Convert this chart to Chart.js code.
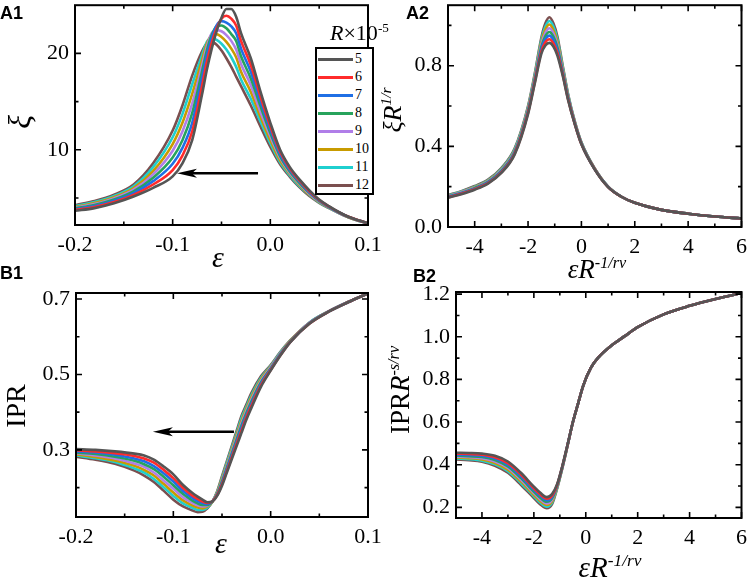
<!DOCTYPE html>
<html>
<head>
<meta charset="utf-8">
<script src="https://cdn.jsdelivr.net/npm/chart.js@4.4.1/dist/chart.umd.min.js"></script>
<style>
    body { margin: 0; background: #fff; width: 754px; height: 583px; overflow: hidden; position: relative;
           font-family: "Liberation Serif", "Times New Roman", serif; color: #000; }
    canvas { position: absolute; }
    .txt { position: absolute; white-space: nowrap; line-height: 1; }
    .rot { transform: translate(-50%, -50%) rotate(-90deg); }
    .ctr { transform: translate(-50%, -50%); }
    .panel { font-family: "Liberation Sans", Arial, sans-serif; font-weight: bold; font-size: 18px; }
    sup { font-size: 0.6em; vertical-align: baseline; position: relative; top: -0.62em; }
    #legend { position: absolute; left: 315px; top: 47px; width: 55px; height: 144px; border: 2px solid #000; background: #fff; }
    .row { position: absolute; left: 0; height: 16px; width: 55px; }
    .row span.l { position: absolute; left: 1px; top: 7px; width: 35px; height: 3px; }
    .row span.t { position: absolute; left: 38px; top: 0; font-size: 14px; line-height: 16px; }
</style>
</head>
<body>
<canvas id="cA1" width="390" height="276" style="left:0;top:-14px"></canvas>
<canvas id="cA2" width="382" height="276" style="left:372px;top:-14px"></canvas>
<canvas id="cB1" width="390" height="313" style="left:0;top:270px"></canvas>
<canvas id="cB2" width="374" height="313" style="left:380px;top:270px"></canvas>

<!-- etiquetas de panel -->
<div class="txt panel" style="left:0;top:4px">A1</div>
<div class="txt panel" style="left:406px;top:4px">A2</div>
<div class="txt panel" style="left:0;top:264px">B1</div>
<div class="txt panel" style="left:413px;top:267px">B2</div>

<!-- titulos de ejes -->
<div class="txt rot" style="left:19px;top:122px;font-size:32px"><i>ξ</i></div>
<div class="txt ctr" style="left:218px;top:257px;font-size:30px"><i>ε</i></div>
<div class="txt rot" style="left:393px;top:110px;font-size:26px"><i>ξR</i><sup><i>1/r</i></sup></div>
<div class="txt ctr" style="left:597px;top:269px;font-size:27px"><i>εR</i><sup><i>-1/rν</i></sup></div>
<div class="txt rot" style="left:16px;top:406px;font-size:28px">IPR</div>
<div class="txt ctr" style="left:221px;top:543px;font-size:30px"><i>ε</i></div>
<div class="txt rot" style="left:400px;top:390px;font-size:27px">IPR<i>R</i><sup><i>-s/rν</i></sup></div>
<div class="txt ctr" style="left:610px;top:567px;font-size:29px"><i>εR</i><sup><i>-1/rν</i></sup></div>

<!-- leyenda -->
<div class="txt" style="left:330px;top:22px;font-size:22px"><i>R</i>×10<sup>-5</sup></div>
<div id="legend"></div>

<script>
// Valores de R (x10^-5) y colores de cada serie
const rLabels = ['5', '6', '7', '8', '9', '10', '11', '12'];
const seriesColors = ['#555555', '#ff2b2b', '#1f6fe5', '#27a35c', '#b07ee8', '#c89b00', '#1fcfcf', '#7b4f4f'];

// Panel A1: xi vs epsilon
const xA1 = [-0.2, -0.18, -0.16, -0.14, -0.12, -0.1, -0.09, -0.08, -0.07, -0.065, -0.06, -0.055, -0.05, -0.045, -0.04, -0.035, -0.03, -0.02, -0.01, 0, 0.01, 0.02, 0.03, 0.04, 0.05, 0.06, 0.07, 0.08, 0.09, 0.1];
const xiR5  = [3.67, 3.95, 4.45, 5.15, 6.05, 7.25, 8.6, 11.0, 15.7, 18.3, 20.5, 22.3, 23.7, 24.6, 24.6, 23.8, 22.1, 19.5, 16.0, 12.8, 10.0, 8.2, 6.9, 5.8, 4.85, 4.15, 3.55, 3.05, 2.7, 2.4];
const xiR6  = [3.75, 4.06, 4.58, 5.33, 6.4, 7.9, 9.4, 11.9, 16.6, 19.1, 21.1, 22.6, 23.6, 23.9, 23.6, 22.9, 21.3, 18.8, 15.5, 12.45, 9.8, 8.05, 6.8, 5.7, 4.8, 4.12, 3.54, 3.05, 2.7, 2.4];
const xiR7  = [3.83, 4.16, 4.71, 5.51, 6.75, 8.55, 10.2, 12.8, 17.4, 19.8, 21.6, 22.9, 23.35, 23.2, 22.8, 22.1, 20.5, 18.1, 15.0, 12.1, 9.55, 7.9, 6.7, 5.6, 4.75, 4.09, 3.52, 3.04, 2.69, 2.39];
const xiR8  = [3.92, 4.27, 4.84, 5.69, 7.1, 9.2, 11.0, 13.8, 18.1, 20.3, 21.9, 22.8, 22.9, 22.6, 22.0, 21.3, 19.7, 17.4, 14.5, 11.75, 9.35, 7.75, 6.55, 5.55, 4.7, 4.06, 3.51, 3.03, 2.68, 2.38];
const xiR9  = [4.0, 4.38, 4.96, 5.86, 7.45, 9.9, 11.9, 14.8, 18.7, 20.7, 22.1, 22.4, 22.3, 21.9, 21.3, 20.4, 18.9, 16.7, 13.9, 11.4, 9.15, 7.6, 6.45, 5.45, 4.65, 4.03, 3.49, 3.02, 2.67, 2.37];
const xiR10 = [4.08, 4.48, 5.09, 6.04, 7.8, 10.6, 12.8, 15.8, 19.3, 21.0, 21.9, 22.0, 21.7, 21.2, 20.5, 19.6, 18.1, 16.0, 13.4, 11.0, 8.9, 7.5, 6.35, 5.35, 4.6, 4.0, 3.48, 3.01, 2.66, 2.36];
const xiR11 = [4.17, 4.59, 5.22, 6.22, 8.2, 11.3, 13.7, 16.8, 19.8, 21.2, 21.6, 21.4, 21.0, 20.4, 19.6, 18.6, 17.3, 15.3, 12.9, 10.65, 8.7, 7.35, 6.2, 5.3, 4.55, 3.97, 3.46, 3.0, 2.65, 2.35];
const xiR12 = [4.25, 4.7, 5.35, 6.4, 8.6, 12.0, 14.6, 17.7, 20.2, 21.0, 21.2, 20.9, 20.3, 19.5, 18.6, 17.6, 16.6, 14.6, 12.4, 10.3, 8.5, 7.2, 6.1, 5.2, 4.5, 3.95, 3.45, 3.0, 2.65, 2.35];

// Panel A2: xi R^(1/r) vs eps R^(-1/r nu)
const xA2 = [-5, -4.5, -4, -3.5, -3, -2.5, -2, -1.75, -1.5, -1.35, -1.2, -1.05, -0.9, -0.7, -0.5, -0.25, 0, 0.5, 1, 1.5, 2, 3, 4, 5, 6];
const scXiR5  = [0.145, 0.163, 0.185, 0.215, 0.268, 0.36, 0.56, 0.71, 0.86, 0.90, 0.913, 0.895, 0.85, 0.75, 0.63, 0.51, 0.41, 0.285, 0.198, 0.15, 0.12, 0.085, 0.066, 0.052, 0.042];
const scXiR6  = [0.147, 0.165, 0.188, 0.218, 0.271, 0.364, 0.566, 0.717, 0.871, 0.916, 0.931, 0.911, 0.864, 0.757, 0.634, 0.512, 0.411, 0.286, 0.198, 0.15, 0.12, 0.085, 0.066, 0.052, 0.042];
const scXiR7  = [0.149, 0.167, 0.19, 0.221, 0.275, 0.369, 0.571, 0.724, 0.883, 0.931, 0.949, 0.928, 0.877, 0.764, 0.639, 0.514, 0.413, 0.286, 0.199, 0.15, 0.12, 0.085, 0.066, 0.052, 0.042];
const scXiR8  = [0.151, 0.169, 0.193, 0.224, 0.278, 0.373, 0.577, 0.731, 0.894, 0.947, 0.967, 0.944, 0.891, 0.771, 0.643, 0.516, 0.414, 0.287, 0.199, 0.15, 0.12, 0.085, 0.066, 0.052, 0.042];
const scXiR9  = [0.152, 0.172, 0.195, 0.226, 0.282, 0.377, 0.583, 0.739, 0.906, 0.963, 0.986, 0.961, 0.904, 0.779, 0.647, 0.519, 0.416, 0.288, 0.199, 0.15, 0.12, 0.085, 0.066, 0.052, 0.042];
const scXiR10 = [0.154, 0.174, 0.198, 0.229, 0.285, 0.381, 0.589, 0.746, 0.917, 0.979, 1.004, 0.977, 0.918, 0.786, 0.651, 0.521, 0.417, 0.289, 0.2, 0.15, 0.12, 0.085, 0.066, 0.052, 0.042];
const scXiR11 = [0.156, 0.176, 0.2, 0.232, 0.289, 0.386, 0.594, 0.753, 0.929, 0.994, 1.022, 0.994, 0.931, 0.793, 0.656, 0.523, 0.419, 0.289, 0.2, 0.15, 0.12, 0.085, 0.066, 0.052, 0.042];
const scXiR12 = [0.158, 0.178, 0.203, 0.235, 0.292, 0.39, 0.60, 0.76, 0.94, 1.01, 1.04, 1.01, 0.945, 0.80, 0.66, 0.525, 0.42, 0.29, 0.2, 0.15, 0.12, 0.085, 0.066, 0.052, 0.042];

// Panel B1: IPR vs epsilon
const xB1 = [-0.2, -0.18, -0.16, -0.14, -0.13, -0.12, -0.11, -0.1, -0.09, -0.08, -0.075, -0.07, -0.065, -0.06, -0.055, -0.05, -0.045, -0.04, -0.035, -0.03, -0.025, -0.02, -0.01, 0, 0.01, 0.02, 0.04, 0.06, 0.08, 0.1];
const iprR5  = [0.302, 0.300, 0.296, 0.290, 0.285, 0.274, 0.256, 0.235, 0.207, 0.185, 0.176, 0.168, 0.161, 0.163, 0.178, 0.205, 0.24, 0.275, 0.31, 0.345, 0.38, 0.41, 0.467, 0.51, 0.55, 0.585, 0.635, 0.667, 0.692, 0.715];
const iprR6  = [0.299, 0.296, 0.291, 0.284, 0.277, 0.266, 0.247, 0.225, 0.199, 0.178, 0.17, 0.163, 0.159, 0.163, 0.18, 0.209, 0.244, 0.28, 0.316, 0.351, 0.386, 0.416, 0.471, 0.512, 0.551, 0.586, 0.635, 0.667, 0.692, 0.715];
const iprR7  = [0.296, 0.293, 0.287, 0.277, 0.27, 0.257, 0.238, 0.216, 0.191, 0.172, 0.164, 0.159, 0.156, 0.163, 0.181, 0.212, 0.249, 0.285, 0.321, 0.358, 0.391, 0.421, 0.475, 0.514, 0.553, 0.586, 0.636, 0.667, 0.692, 0.715];
const iprR8  = [0.293, 0.289, 0.282, 0.271, 0.262, 0.249, 0.229, 0.206, 0.183, 0.165, 0.158, 0.154, 0.154, 0.163, 0.183, 0.216, 0.253, 0.29, 0.327, 0.364, 0.397, 0.427, 0.479, 0.516, 0.554, 0.587, 0.636, 0.667, 0.692, 0.715];
const iprR9  = [0.291, 0.285, 0.277, 0.264, 0.255, 0.24, 0.219, 0.197, 0.174, 0.159, 0.153, 0.15, 0.152, 0.163, 0.185, 0.219, 0.257, 0.295, 0.333, 0.371, 0.403, 0.433, 0.483, 0.519, 0.556, 0.588, 0.637, 0.668, 0.693, 0.715];
const iprR10 = [0.288, 0.281, 0.272, 0.258, 0.247, 0.232, 0.21, 0.187, 0.166, 0.152, 0.147, 0.145, 0.15, 0.162, 0.187, 0.223, 0.261, 0.3, 0.339, 0.377, 0.409, 0.439, 0.487, 0.521, 0.557, 0.589, 0.637, 0.668, 0.693, 0.715];
const iprR11 = [0.285, 0.278, 0.268, 0.251, 0.24, 0.223, 0.201, 0.178, 0.158, 0.146, 0.141, 0.141, 0.147, 0.162, 0.188, 0.226, 0.266, 0.305, 0.344, 0.384, 0.414, 0.444, 0.491, 0.523, 0.559, 0.589, 0.638, 0.668, 0.693, 0.715];
const iprR12 = [0.282, 0.274, 0.263, 0.245, 0.232, 0.215, 0.192, 0.168, 0.15, 0.139, 0.135, 0.136, 0.145, 0.162, 0.19, 0.23, 0.27, 0.31, 0.35, 0.39, 0.42, 0.45, 0.495, 0.525, 0.56, 0.59, 0.638, 0.668, 0.693, 0.715];

// Panel B2: IPR R^(-s/r nu) vs eps R^(-1/r nu)
const xB2 = [-5, -4.5, -4, -3.5, -3, -2.5, -2, -1.75, -1.5, -1.3, -1.1, -0.9, -0.7, -0.5, -0.3, -0.1, 0.2, 0.5, 1, 1.5, 2, 3, 4, 5, 6];
const scIprR5  = [0.456, 0.455, 0.452, 0.442, 0.415, 0.362, 0.297, 0.268, 0.248, 0.262, 0.31, 0.395, 0.495, 0.598, 0.685, 0.77, 0.855, 0.905, 0.96, 1.003, 1.045, 1.105, 1.145, 1.177, 1.205];
const scIprR6  = [0.452, 0.45, 0.447, 0.435, 0.407, 0.354, 0.289, 0.26, 0.241, 0.255, 0.307, 0.394, 0.494, 0.598, 0.685, 0.77, 0.855, 0.905, 0.96, 1.003, 1.045, 1.105, 1.145, 1.177, 1.205];
const scIprR7  = [0.447, 0.445, 0.441, 0.429, 0.4, 0.346, 0.282, 0.253, 0.233, 0.249, 0.304, 0.392, 0.494, 0.598, 0.685, 0.77, 0.855, 0.905, 0.96, 1.003, 1.045, 1.105, 1.145, 1.177, 1.205];
const scIprR8  = [0.443, 0.44, 0.436, 0.422, 0.392, 0.338, 0.274, 0.245, 0.226, 0.242, 0.301, 0.391, 0.493, 0.598, 0.685, 0.77, 0.855, 0.905, 0.96, 1.003, 1.045, 1.105, 1.145, 1.177, 1.205];
const scIprR9  = [0.438, 0.436, 0.43, 0.415, 0.385, 0.33, 0.267, 0.237, 0.218, 0.235, 0.299, 0.389, 0.492, 0.598, 0.685, 0.77, 0.855, 0.905, 0.96, 1.003, 1.045, 1.105, 1.145, 1.177, 1.205];
const scIprR10 = [0.434, 0.431, 0.425, 0.408, 0.377, 0.322, 0.259, 0.229, 0.211, 0.228, 0.296, 0.388, 0.491, 0.598, 0.685, 0.77, 0.855, 0.905, 0.96, 1.003, 1.045, 1.105, 1.145, 1.177, 1.205];
const scIprR11 = [0.429, 0.426, 0.419, 0.402, 0.37, 0.314, 0.252, 0.222, 0.203, 0.222, 0.293, 0.386, 0.491, 0.598, 0.685, 0.77, 0.855, 0.905, 0.96, 1.003, 1.045, 1.105, 1.145, 1.177, 1.205];
const scIprR12 = [0.425, 0.421, 0.414, 0.395, 0.362, 0.306, 0.244, 0.214, 0.196, 0.215, 0.29, 0.385, 0.49, 0.598, 0.685, 0.77, 0.855, 0.905, 0.96, 1.003, 1.045, 1.105, 1.145, 1.177, 1.205];

// Marcas de los ejes (mayores con etiqueta, menores sin ella)
const epsTicks = [-0.2, -0.1, 0, 0.1];
const epsMinor = [-0.15, -0.05, 0.05];
const scaledXTicks = [-4, -2, 0, 2, 4, 6];
const scaledXMinor = [-5, -3, -1, 1, 3, 5];
const xiTicks = [10, 20];
const xiMinor = [5, 15];
const scXiTicks = [0, 0.4, 0.8];
const scXiMinor = [0.2, 0.6, 1.0];
const iprTicks = [0.3, 0.5, 0.7];
const iprMinor = [0.2, 0.4, 0.6];
const scIprTicks = [0.2, 0.4, 0.6, 0.8, 1.0, 1.2];
const scIprMinor = [0.3, 0.5, 0.7, 0.9, 1.1];

const TICK_FONT = { family: "'Liberation Serif', 'Times New Roman', serif", size: 22 };

// Plugin: marco negro con marcas hacia adentro en los cuatro lados y flecha opcional
const framePlugin = {
    id: 'frame',
    afterDatasetsDraw(chart, args, opts) {
        const { ctx, chartArea: a, scales } = chart;
        const sx = scales.x, sy = scales.y;
        ctx.save();
        ctx.strokeStyle = '#000';
        ctx.lineWidth = 1.6;
        ctx.beginPath();
        const xMarks = (vals, len) => vals.forEach(v => {
            const p = sx.getPixelForValue(v);
            ctx.moveTo(p, a.bottom); ctx.lineTo(p, a.bottom - len);
            ctx.moveTo(p, a.top); ctx.lineTo(p, a.top + len);
        });
        const yMarks = (vals, len) => vals.forEach(v => {
            const p = sy.getPixelForValue(v);
            ctx.moveTo(a.left, p); ctx.lineTo(a.left + len, p);
            ctx.moveTo(a.right, p); ctx.lineTo(a.right - len, p);
        });
        xMarks(opts.xMajor, 6); xMarks(opts.xMinor, 3.5);
        yMarks(opts.yMajor, 6); yMarks(opts.yMinor, 3.5);
        ctx.stroke();
        ctx.lineWidth = 2;
        ctx.strokeRect(a.left, a.top, a.right - a.left, a.bottom - a.top);

        // Flecha (sentido de R creciente)
        if (opts.arrow) {
            const x0 = sx.getPixelForValue(opts.arrow.from);
            const x1 = sx.getPixelForValue(opts.arrow.to);
            const yy = sy.getPixelForValue(opts.arrow.y);
            ctx.lineWidth = 2.5;
            ctx.beginPath();
            ctx.moveTo(x0, yy); ctx.lineTo(x1 + 12, yy);
            ctx.stroke();
            ctx.fillStyle = '#000';
            ctx.beginPath();
            ctx.moveTo(x1, yy);
            ctx.lineTo(x1 + 20, yy - 4.5);
            ctx.lineTo(x1 + 15, yy);
            ctx.lineTo(x1 + 20, yy + 4.5);
            ctx.closePath();
            ctx.fill();
        }
        ctx.restore();
    }
};

/**
 * Crea un panel con 8 curvas
 * p: padTop/padRight = relleno del lienzo, yw = ancho eje y, xh = alto eje x
 */
function makePanel(id, xs, ys, p) {
    const datasets = ys.map((vals, i) => ({
        label: rLabels[i],
        data: xs.map((x, j) => ({ x: x, y: vals[j] })),
        borderColor: seriesColors[i],
        borderWidth: 2.6,
        pointRadius: 0,
        fill: false,
        cubicInterpolationMode: 'monotone'
    }));

    new Chart(document.getElementById(id), {
        type: 'line',
        data: { datasets: datasets },
        plugins: [framePlugin],
        options: {
            responsive: false,
            animation: false,
            devicePixelRatio: 1,
            layout: { padding: { left: 0, top: p.padTop, right: p.padRight, bottom: 0 } },
            plugins: {
                legend: { display: false },
                tooltip: { enabled: false },
                frame: { xMajor: p.xTicks, xMinor: p.xMinor, yMajor: p.yTicks, yMinor: p.yMinor, arrow: p.arrow }
            },
            scales: {
                x: {
                    type: 'linear', min: p.xMin, max: p.xMax,
                    grid: { display: false, drawTicks: false },
                    border: { display: false },
                    afterBuildTicks: s => { s.ticks = p.xTicks.map(v => ({ value: v })); },
                    afterFit: s => { s.height = p.xh; },
                    ticks: {
                        font: TICK_FONT, color: '#000', padding: 7, maxRotation: 0, autoSkip: false,
                        callback: v => v.toFixed(p.xDec)
                    }
                },
                y: {
                    type: 'linear', min: p.yMin, max: p.yMax,
                    grid: { display: false, drawTicks: false },
                    border: { display: false },
                    afterBuildTicks: s => { s.ticks = p.yTicks.map(v => ({ value: v })); },
                    afterFit: s => { s.width = p.yw; },
                    ticks: {
                        font: TICK_FONT, color: '#000', padding: 6, autoSkip: false,
                        callback: v => v.toFixed(p.yDec)
                    }
                }
            }
        }
    });
}

makePanel('cA1', xA1, [xiR5, xiR6, xiR7, xiR8, xiR9, xiR10, xiR11, xiR12], {
    padTop: 15, padRight: 22, yw: 75, xh: 37,
    xMin: -0.2, xMax: 0.1, yMin: 2.2, yMax: 25,
    xTicks: epsTicks, xMinor: epsMinor, yTicks: xiTicks, yMinor: xiMinor, xDec: 1, yDec: 0,
    arrow: { from: -0.0126, to: -0.0956, y: 7.58 }
});

makePanel('cA2', xA2, [scXiR5, scXiR6, scXiR7, scXiR8, scXiR9, scXiR10, scXiR11, scXiR12], {
    padTop: 15, padRight: 12, yw: 76, xh: 35,
    xMin: -5, xMax: 6, yMin: 0, yMax: 1.1,
    xTicks: scaledXTicks, xMinor: scaledXMinor, yTicks: scXiTicks, yMinor: scXiMinor, xDec: 0, yDec: 1
});

makePanel('cB1', xB1, [iprR5, iprR6, iprR7, iprR8, iprR9, iprR10, iprR11, iprR12], {
    padTop: 23, padRight: 22, yw: 76, xh: 66,
    xMin: -0.2, xMax: 0.1, yMin: 0.122, yMax: 0.716,
    xTicks: epsTicks, xMinor: epsMinor, yTicks: iprTicks, yMinor: iprMinor, xDec: 1, yDec: 1,
    arrow: { from: -0.0377, to: -0.121, y: 0.348 }
});

makePanel('cB2', xB2, [scIprR5, scIprR6, scIprR7, scIprR8, scIprR9, scIprR10, scIprR11, scIprR12], {
    padTop: 22, padRight: 6, yw: 76, xh: 65,
    xMin: -5, xMax: 6, yMin: 0.15, yMax: 1.21,
    xTicks: scaledXTicks, xMinor: scaledXMinor, yTicks: scIprTicks, yMinor: scIprMinor, xDec: 0, yDec: 1
});

// Leyenda de A1 construida a partir de las series
const legend = document.getElementById('legend');
rLabels.forEach((lab, i) => {
    const row = document.createElement('div');
    row.className = 'row';
    row.style.top = Math.round(1.5 + i * 18.1) + 'px';
    row.innerHTML = `<span class="l" style="background:${seriesColors[i]}"></span><span class="t">${lab}</span>`;
    legend.appendChild(row);
});
</script>
</body>
</html>
